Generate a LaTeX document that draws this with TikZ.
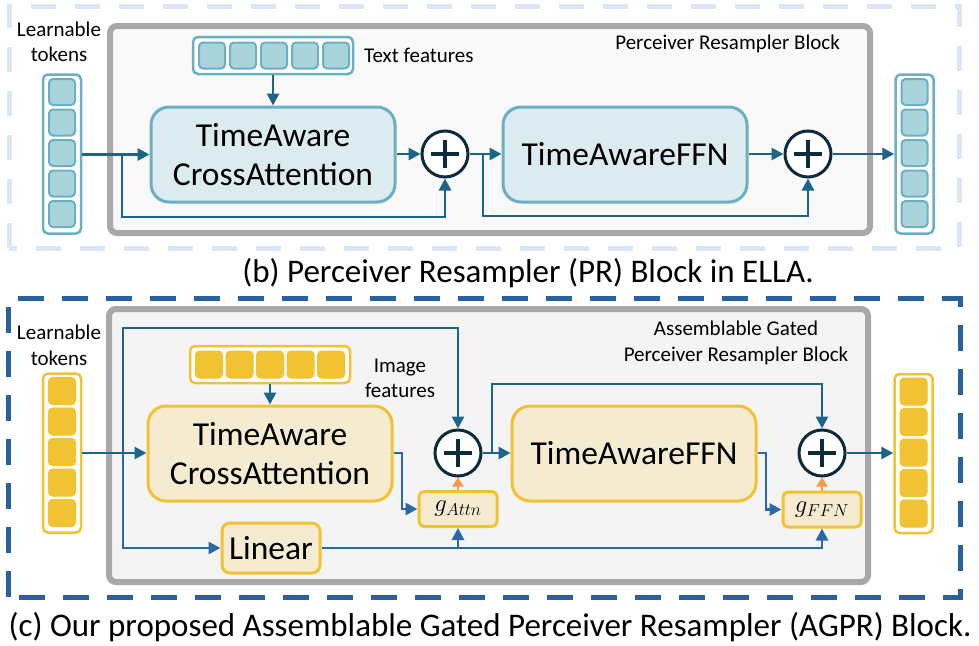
\documentclass[tikz,border=0pt]{standalone}
\usepackage{fontspec}
\setmainfont{Carlito}
\usetikzlibrary{arrows.meta,calc}
\definecolor{dashlight}{HTML}{DBE7F4}
\definecolor{dashdark}{HTML}{2A609E}
\definecolor{grayedge}{HTML}{A8A8A8}
\definecolor{grayfillA}{HTML}{F9F9F9}
\definecolor{grayfillB}{HTML}{F4F4F4}
\definecolor{tealfill}{HTML}{DCEBF0}
\definecolor{tealedge}{HTML}{6BB0C1}
\definecolor{tealsq}{HTML}{A9D4DB}
\definecolor{yelfill}{HTML}{F5EBD0}
\definecolor{yeledge}{HTML}{F2C233}
\definecolor{yelsq}{HTML}{F1C232}
\definecolor{arrteal}{HTML}{1E6388}
\definecolor{arrblue}{HTML}{2B68A8}
\definecolor{circedge}{HTML}{0E2B3B}
\definecolor{orangearr}{HTML}{F4994C}
\begin{document}
\begin{tikzpicture}[x=1pt,y=-1pt,
  grayblock/.style={draw=grayedge,line width=6pt,rounded corners=7pt,inner sep=0pt},
  bigbox/.style={rounded corners=18pt,line width=3pt,minimum width=244pt,minimum height=95pt,inner sep=0pt,align=center,font=\fontsize{33.5}{39}\selectfont},
  tbox/.style={bigbox,fill=tealfill,draw=tealedge},
  ybox/.style={bigbox,fill=yelfill,draw=yeledge},
  colbox/.style={rounded corners=5pt,line width=2.5pt,fill=white,minimum width=38pt,minimum height=159pt,inner sep=0pt},
  rowbox/.style={rounded corners=5pt,line width=2.5pt,fill=white,minimum width=160pt,minimum height=37pt,inner sep=0pt},
  tsq/.style={rounded corners=4pt,line width=2pt,fill=tealsq,draw=tealedge,minimum size=26pt,inner sep=0pt},
  ysq/.style={rounded corners=4pt,line width=1pt,fill=yelsq,draw=yelsq,minimum size=27pt,inner sep=0pt},
  plus/.style={circle,draw=circedge,line width=3pt,fill=white,minimum size=46pt,inner sep=0pt,
    path picture={\draw[circedge,line width=4pt] ($(path picture bounding box.center)+(-14,0)$) -- ($(path picture bounding box.center)+(14,0)$)
      ($(path picture bounding box.center)+(0,-14)$) -- ($(path picture bounding box.center)+(0,14)$);}},
  gate/.style={rounded corners=5pt,line width=3pt,fill=yelfill,draw=yeledge,minimum width=78pt,minimum height=35pt,inner sep=0pt,font=\fontsize{25}{28}\selectfont},
  lab/.style={font=\fontsize{21}{25.5}\selectfont,align=center,inner sep=0pt},
  captext/.style={font=\fontsize{33}{38}\selectfont,inner sep=0pt},
  arr/.style={draw=arrteal,line width=2.8pt,-{Triangle[length=12pt,width=12pt]}},
  arrb/.style={draw=arrblue,line width=2.8pt,-{Triangle[length=12pt,width=12pt]}},
  arro/.style={draw=orangearr,line width=2.8pt,-{Triangle[length=9pt,width=11pt]}}
]
\useasboundingbox (0,0) rectangle (979,645);
\fill[white] (0,0) rectangle (979,645);

% ---------- top panel (b) ----------
\draw[dashlight,line width=5pt,dash pattern=on 25pt off 19pt] (9,248) -- (9,6) -- (959,6) -- (959,248) -- cycle;
\node[grayblock,fill=grayfillA,minimum width=760pt,minimum height=207pt] (blkA) at (490,129.5) {};
\node[lab,anchor=north east] (blkAlab) at (840,35) {Perceiver Resampler Block};
\node[lab] (ltA) at (59,42) {Learnable\\tokens};
\node[colbox,draw=tealedge] (tinA) at (62,154) {};
\foreach \i/\yy in {1/92,2/122.5,3/153,4/183.5,5/214} \node[tsq] (tinA\i) at (62,\yy) {};
\node[rowbox,draw=tealedge] (tfA) at (273,55.5) {};
\foreach \i/\xx in {1/212,2/243,3/274,4/305,5/336} \node[tsq] (tfA\i) at (\xx,55.5) {};
\node[lab,anchor=west] (tfAlab) at (364,55) {Text features};
\node[tbox] (caA) at (273,154.5) {TimeAware\\CrossAttention};
\node[plus] (pA1) at (445,154) {};
\node[tbox] (ffnA) at (625,154.5) {TimeAwareFFN};
\node[plus] (pA2) at (808,154) {};
\node[colbox,draw=tealedge] (toutA) at (914.5,154) {};
\foreach \i/\yy in {1/92,2/122.5,3/153,4/183.5,5/214} \node[tsq] (toutA\i) at (914.5,\yy) {};

\coordinate (bA1) at (122,154);
\coordinate (bA2) at (483,154);
\draw[arr] (tinA.east |- caA.west) -- (caA.west);
\draw[arr] (tfA.south) -- (caA.north);
\draw[arr] (bA1) -- (122,217) -| (pA1.south);
\draw[arr] (caA.east |- pA1.west) -- (pA1.west);
\draw[arr] (pA1.east) -- (ffnA.west |- pA1.east);
\draw[arr] (bA2) -- (483,216) -| (pA2.south);
\draw[arr] (ffnA.east |- pA2.west) -- (pA2.west);
\draw[arr] (pA2.east) -- (toutA.west |- pA2.east);

\node[captext] (capB) at (528,273) {(b) Perceiver Resampler (PR) Block in ELLA.};

% ---------- bottom panel (c) ----------
\draw[dashdark,line width=5pt,dash pattern=on 26pt off 18pt] (8.5,597) -- (8.5,298.5) -- (960,298.5) -- (960,597) -- cycle;
\node[grayblock,fill=grayfillB,minimum width=759pt,minimum height=273pt] (blkB) at (488.5,445.5) {};
\node[lab] (blkBlab) at (736,343) {Assemblable Gated\\Perceiver Resampler Block};
\node[lab] (ltB) at (59,345.5) {Learnable\\tokens};
\node[colbox,draw=yeledge] (tinB) at (62,453) {};
\foreach \i/\yy in {1/391,2/421.5,3/452,4/482.5,5/513} \node[ysq] (tinB\i) at (62,\yy) {};
\node[rowbox,draw=yeledge] (imB) at (270,364.5) {};
\foreach \i/\xx in {1/209,2/239.5,3/270,4/300.5,5/331} \node[ysq] (imB\i) at (\xx,364.5) {};
\node[lab] (imBlab) at (400,378.5) {Image\\features};
\node[ybox] (caB) at (270,453.5) {TimeAware\\CrossAttention};
\node[ybox,minimum width=98pt,minimum height=50pt,rounded corners=8pt] (linB) at (271,548) {Linear};
\node[plus] (pB1) at (458,453) {};
\node[gate] (gA) at (458,509) {$g_{Attn}$};
\node[ybox] (ffnB) at (634,453.5) {TimeAwareFFN};
\node[plus] (pB2) at (822,453) {};
\node[gate] (gF) at (822,509.5) {$g_{FFN}$};
\node[colbox,draw=yeledge] (toutB) at (913.5,453.5) {};
\foreach \i/\yy in {1/391.5,2/422,3/452.5,4/483,5/513.5} \node[ysq] (toutB\i) at (913.5,\yy) {};

\coordinate (cB1) at (123,453);
\coordinate (cB2) at (492,453);
\coordinate (cB3) at (gA.south |- linB.east);
\draw[arr] (tinB.east |- pB1.west) -- (caB.west |- pB1.west);
\draw[arr] (imB.south) -- (caB.north);
\draw[arr] (cB1) -- (123,328) -| (pB1.north);
\draw[arrb] (cB1) |- (linB.west);
\draw[arrb] (linB.east) -| (gF.south);
\draw[arrb] (cB3) -- (gA.south);
\draw[arrb] (caB.east |- pB1.west) -- (402,453) |- (gA.west);
\draw[arro] (gA.north) -- (pB1.south);
\draw[arr] (pB1.east) -- (ffnB.west |- pB1.east);
\draw[arr] (cB2) -- (492,384) -| (pB2.north);
\draw[arrb] (ffnB.east |- pB2.west) -- (766,453) |- (gF.west);
\draw[arro] (gF.north) -- (pB2.south);
\draw[arr] (pB2.east) -- (toutB.west |- pB2.east);

\node[captext] (capC) at (490,627) {(c) Our proposed Assemblable Gated Perceiver Resampler (AGPR) Block.};
\end{tikzpicture}
\end{document}
